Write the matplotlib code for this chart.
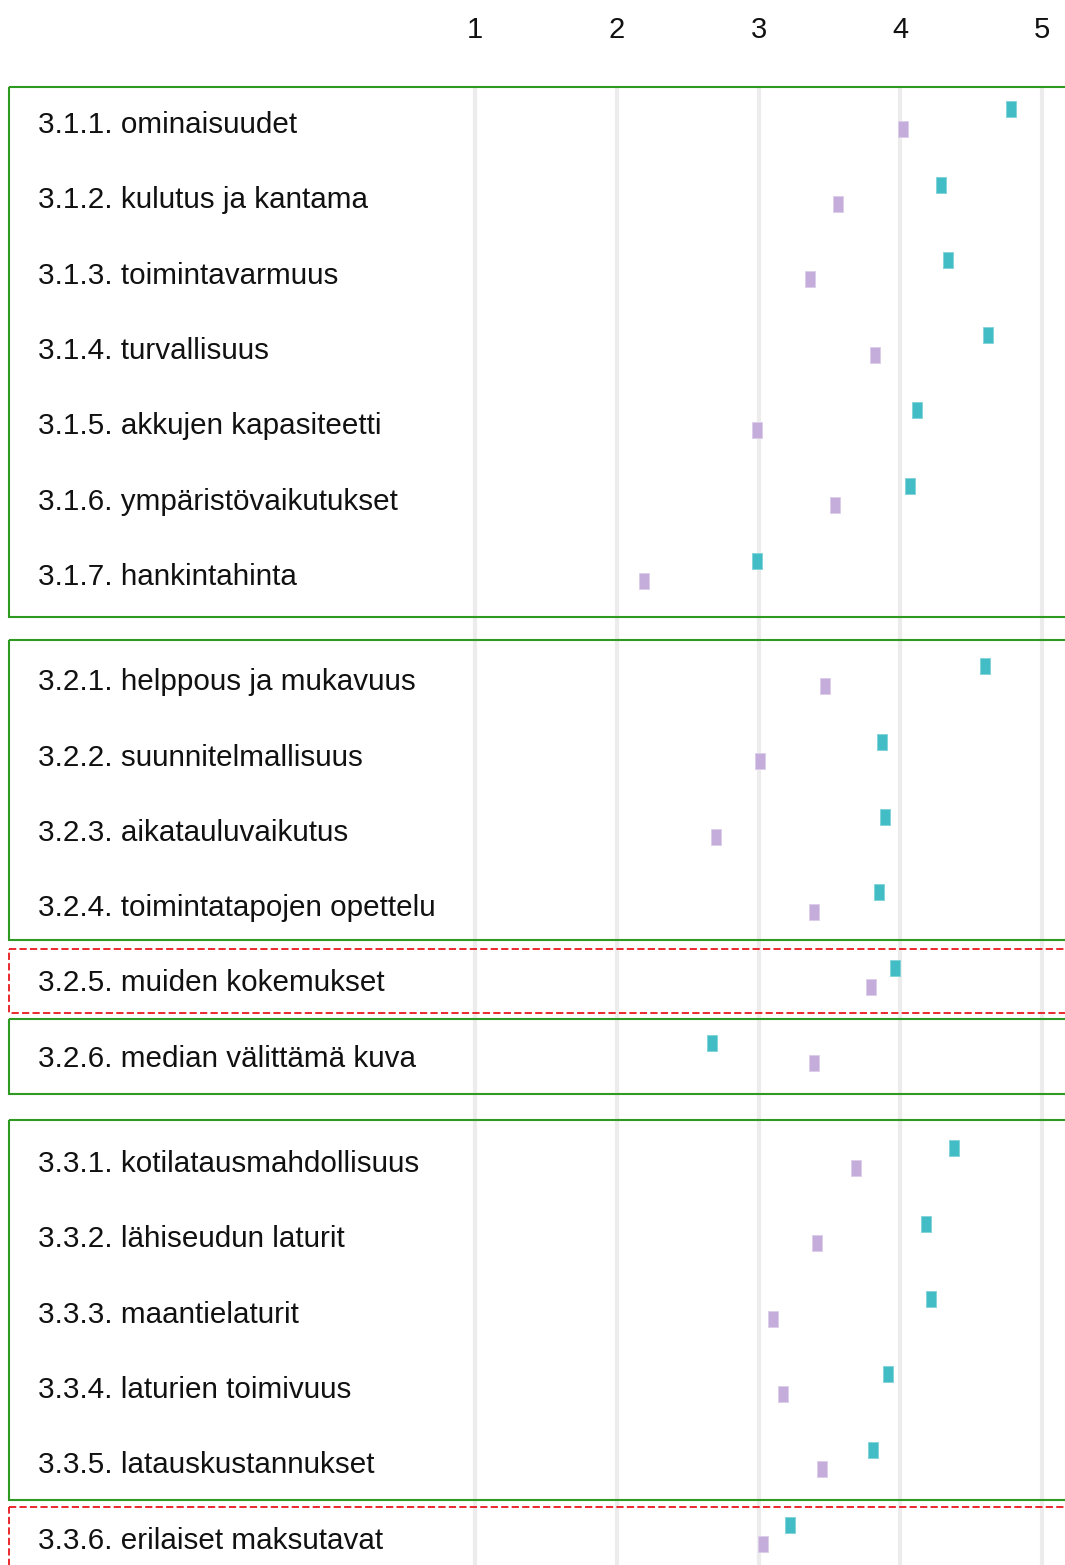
import matplotlib.pyplot as plt
import matplotlib.transforms as mtransforms
from matplotlib.patches import Rectangle

plt.rcParams['font.family'] = ['Liberation Sans', 'DejaVu Sans']

labels = ["3.1.1. ominaisuudet", "3.1.2. kulutus ja kantama", "3.1.3. toimintavarmuus",
          "3.1.4. turvallisuus", "3.1.5. akkujen kapasiteetti", "3.1.6. ympäristövaikutukset",
          "3.1.7. hankintahinta",
          "3.2.1. helppous ja mukavuus", "3.2.2. suunnitelmallisuus", "3.2.3. aikatauluvaikutus",
          "3.2.4. toimintatapojen opettelu", "3.2.5. muiden kokemukset", "3.2.6. median välittämä kuva",
          "3.3.1. kotilatausmahdollisuus", "3.3.2. lähiseudun laturit", "3.3.3. maantielaturit",
          "3.3.4. laturien toimivuus", "3.3.5. latauskustannukset", "3.3.6. erilaiset maksutavat"]
teal = [4.78, 4.29, 4.34, 4.62, 4.12, 4.07, 2.99,
        4.60, 3.87, 3.89, 3.85, 3.96, 2.67,
        4.38, 4.18, 4.22, 3.91, 3.81, 3.22]
purple = [4.02, 3.56, 3.36, 3.82, 2.99, 3.54, 2.19,
          3.47, 3.01, 2.70, 3.39, 3.79, 3.39,
          3.69, 3.41, 3.10, 3.17, 3.45, 3.03]
group_sizes = [7, 6, 6]
# (first row, last row, kind, top margin, bottom margin) in row units
boxes = [(0, 6, "green", 0.43, 0.61), (7, 10, "green", 0.48, 0.50),
         (11, 11, "red", 0.38, 0.47), (12, 12, "green", 0.45, 0.55),
         (13, 17, "green", 0.51, 0.54), (18, 18, "red", 0.37, 0.6)]
ticks = [1, 2, 3, 4, 5]

# row positions with a small gap between groups
pos = []
p = 0.0
for g, n in enumerate(group_sizes):
    if g > 0:
        p += 0.4
    for i in range(n):
        pos.append(p)
        p += 1

fig = plt.figure(figsize=(10.65, 15.65), dpi=100)
ax = fig.add_axes([0, 0, 1, (1565 - 87) / 1565])
ax.set_xlim(-2.351, 5.162)
ax.set_ylim(19.203, -0.425)
for s in ax.spines.values():
    s.set_visible(False)
ax.set_yticks([])
ax.xaxis.tick_top()
ax.set_xticks(ticks)
ax.set_xticklabels([str(t) for t in ticks])
ax.tick_params(axis='x', length=0, pad=31, labelsize=21, labelcolor='#111111')

for t in ticks:
    ax.axvline(t, color='#ECECEC', lw=3, zorder=0)

rect = [(-5, -8.5), (5, -8.5), (5, 8.5), (-5, 8.5), (-5, -8.5)]
ax.plot(teal, [y - 0.13 for y in pos], linestyle='none', marker=rect, markersize=12.2,
        color='#42BDC6', mec='#7fd3d9', mew=0.6, zorder=3)
ax.plot(purple, [y + 0.13 for y in pos], linestyle='none', marker=rect, markersize=12.2,
        color='#C4ADDA', mec='#dccdea', mew=0.6, zorder=3)

blend = mtransforms.blended_transform_factory(ax.transAxes, ax.transData)
for lab, y in zip(labels, pos):
    ax.text(0.0357, y + 0.08, lab, transform=blend, ha='left', va='center',
            fontsize=21.3, color='#111111')

for a, b, kind, mt, mb in boxes:
    top, bot = pos[a] - mt, pos[b] + mb
    if kind == "green":
        r = Rectangle((0.0085, top), 1.2, bot - top, transform=blend, fill=False,
                      edgecolor='#2E9A22', lw=1.5, clip_on=False, zorder=2)
    else:
        r = Rectangle((0.0085, top), 1.2, bot - top, transform=blend, fill=False,
                      edgecolor='#E8191E', lw=1.3, linestyle=(0, (4, 1.8)),
                      clip_on=False, zorder=2)
    ax.add_patch(r)

fig.savefig("out.png", dpi=100)
